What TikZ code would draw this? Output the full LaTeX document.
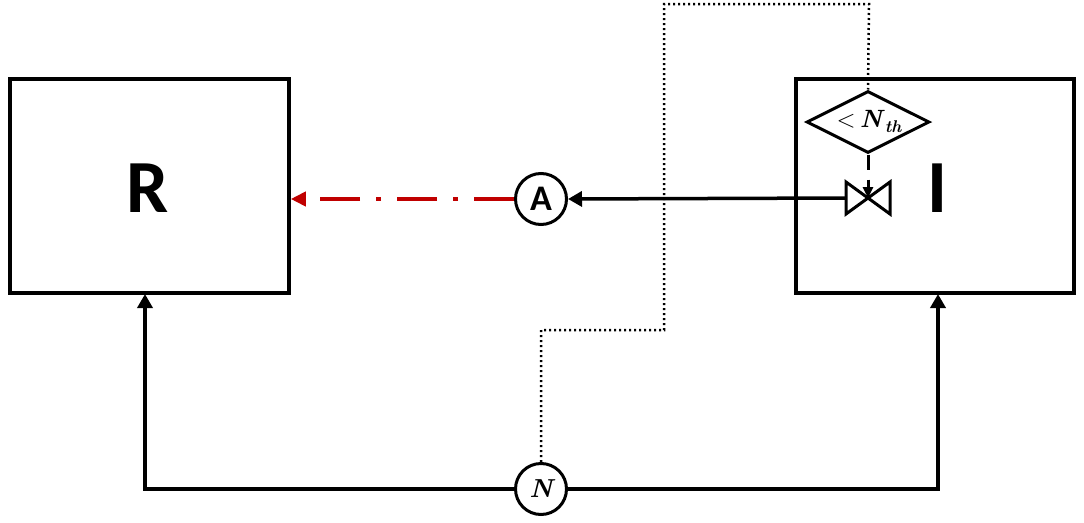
\documentclass[tikz,border=0pt]{standalone}
\usepackage{fontspec}
\newfontfamily\carlito{Carlito}
\usetikzlibrary{arrows.meta,shapes.geometric}
\definecolor{arrred}{RGB}{192,0,0}
\newcommand{\subtxt}[1]{\raisebox{-5pt}{\fontsize{17}{17}\selectfont\bfseries\itshape #1}}
\begin{document}
\begin{tikzpicture}[x=1pt,y=-1pt,
  box/.style={draw,line width=3.5pt,inner sep=0pt},
  bigletter/.style={font=\carlito\bfseries\fontsize{75}{75}\selectfont,inner sep=0pt},
  circ/.style={draw,circle,line width=3pt,minimum size=51pt,inner sep=0pt,fill=white},
  conn/.style={line width=3.5pt},
  tip/.style={-{Triangle[length=14pt,width=15pt]}},
  dotline/.style={line width=2.5pt,dash pattern=on 2pt off 3pt},
  redline/.style={arrred,line width=4pt,dash pattern=on 40pt off 16pt on 5pt off 16pt,-{Triangle[length=15pt,width=14pt]}},
  valveshape/.style={draw,line width=3pt,fill=white,line join=miter}
]
\useasboundingbox (0,0) rectangle (1084,522);
% boxes
\node[box,minimum width=279pt,minimum height=214pt] (R) at (149.5,186) {};
\node[box,minimum width=278pt,minimum height=214pt] (I) at (935,186) {};
\node[bigletter] (Rl) at (148,188) {R};
\node[bigletter] (Il) at (937,188) {I};
% circles
\node[circ,font=\carlito\bfseries\fontsize{36}{36}\selectfont] (A) at (541,199) {A};
\node[circ,font=\fontsize{26}{26}\selectfont\bfseries\itshape] (N) at (541,489) {N};
% diamond
\node[draw,diamond,line width=3pt,minimum width=123pt,minimum height=62pt,inner sep=0pt] (D) at (868,122) {};
\node[inner sep=0pt,font=\fontsize{25}{25}\selectfont] (Dl) at (869,121) {<\,\textbf{\textit{N}}\subtxt{th}};
% valve
\coordinate (V) at (868,198);
\coordinate (VL) at (846,198);
\draw[valveshape] (V) -- ++(-22,-16) -- ++(0,32) -- cycle;
\draw[valveshape] (V) -- ++(22,-16) -- ++(0,32) -- cycle;
% diamond to valve
\draw[line width=3pt,dash pattern=on 15pt off 10pt,-{Triangle[length=11pt,width=10pt]}] (D.south) -- (V);
% valve to A
\draw[conn,tip] (VL) -- (A.east);
% A to R
\draw[redline] (A.west) -- (A -| R.east);
% N to boxes
\coordinate (RB) at (145,294);
\coordinate (IB) at (938,294);
\draw[conn,tip] (N.west) -| (RB);
\draw[conn,tip] (N.east) -| (IB);
% dotted feedback
\coordinate (d1) at (541,330);
\coordinate (d2) at (664,330);
\coordinate (d3) at (664,4);
\coordinate (d4) at (869,4);
\draw[dotline] (N.north) -- (d1) -- (d2) -- (d3) -- (d4) -- (D.north);
\end{tikzpicture}
\end{document}
